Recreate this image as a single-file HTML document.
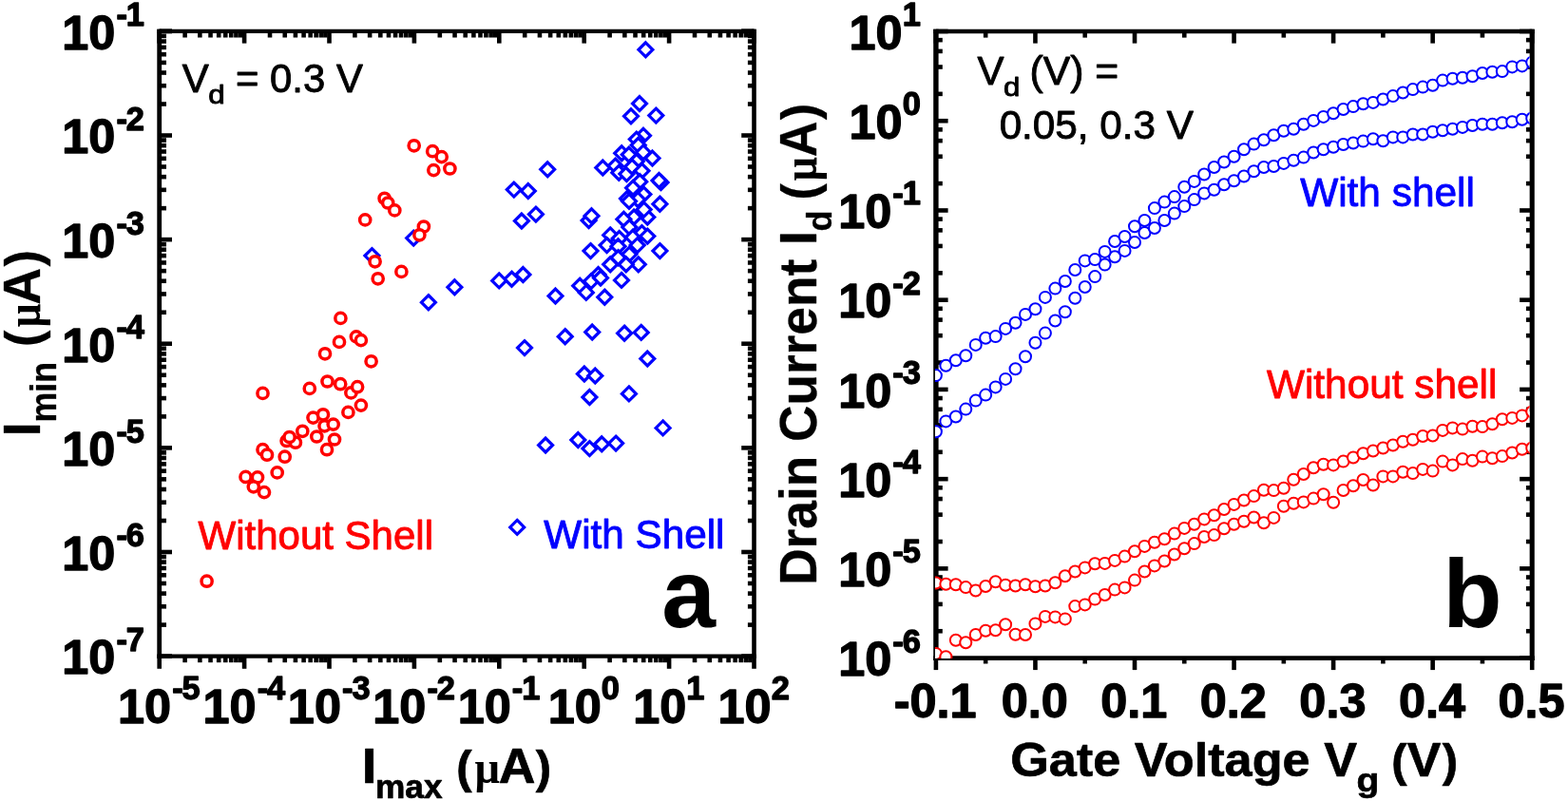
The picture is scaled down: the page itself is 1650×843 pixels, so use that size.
<!DOCTYPE html>
<html><head><meta charset="utf-8"><title>Figure</title>
<style>
html,body{margin:0;padding:0;background:#fff;}
body{width:1650px;height:843px;overflow:hidden;}
svg{display:block;}
svg{font-family:"Liberation Sans",Arial,sans-serif;}
</style></head><body>

<svg width="1650" height="843" viewBox="0 0 1650 843">
<rect width="1650" height="843" fill="#fff"/>
<defs><clipPath id="cb"><rect x="984" y="31" width="625.6" height="662.1"/></clipPath></defs>
<g fill="#fff" stroke="#00f" stroke-width="3.2" stroke-linejoin="miter"><path d="M679.4 44.85l7.45 7.45l-7.45 7.45l-7.45 -7.45z"/><path d="M673 101.55l7.45 7.45l-7.45 7.45l-7.45 -7.45z"/><path d="M664 114.85l7.45 7.45l-7.45 7.45l-7.45 -7.45z"/><path d="M690.3 114.15l7.45 7.45l-7.45 7.45l-7.45 -7.45z"/><path d="M677 135.35l7.45 7.45l-7.45 7.45l-7.45 -7.45z"/><path d="M669.8 139.15l7.45 7.45l-7.45 7.45l-7.45 -7.45z"/><path d="M671.7 145.35l7.45 7.45l-7.45 7.45l-7.45 -7.45z"/><path d="M654.2 153.85l7.45 7.45l-7.45 7.45l-7.45 -7.45z"/><path d="M661.8 155.25l7.45 7.45l-7.45 7.45l-7.45 -7.45z"/><path d="M677 152.95l7.45 7.45l-7.45 7.45l-7.45 -7.45z"/><path d="M669.8 162.35l7.45 7.45l-7.45 7.45l-7.45 -7.45z"/><path d="M686.5 159.05l7.45 7.45l-7.45 7.45l-7.45 -7.45z"/><path d="M634.3 169.05l7.45 7.45l-7.45 7.45l-7.45 -7.45z"/><path d="M647.6 167.15l7.45 7.45l-7.45 7.45l-7.45 -7.45z"/><path d="M651.3 174.25l7.45 7.45l-7.45 7.45l-7.45 -7.45z"/><path d="M659.4 175.65l7.45 7.45l-7.45 7.45l-7.45 -7.45z"/><path d="M665.1 168.05l7.45 7.45l-7.45 7.45l-7.45 -7.45z"/><path d="M675.5 172.35l7.45 7.45l-7.45 7.45l-7.45 -7.45z"/><path d="M673.2 183.75l7.45 7.45l-7.45 7.45l-7.45 -7.45z"/><path d="M695.5 184.65l7.45 7.45l-7.45 7.45l-7.45 -7.45z"/><path d="M693.5 182.55l7.45 7.45l-7.45 7.45l-7.45 -7.45z"/><path d="M666.1 190.35l7.45 7.45l-7.45 7.45l-7.45 -7.45z"/><path d="M677.4 197.05l7.45 7.45l-7.45 7.45l-7.45 -7.45z"/><path d="M660 201.55l7.45 7.45l-7.45 7.45l-7.45 -7.45z"/><path d="M576.2 170.85l7.45 7.45l-7.45 7.45l-7.45 -7.45z"/><path d="M540.8 192.15l7.45 7.45l-7.45 7.45l-7.45 -7.45z"/><path d="M555.8 193.55l7.45 7.45l-7.45 7.45l-7.45 -7.45z"/><path d="M563.9 218.15l7.45 7.45l-7.45 7.45l-7.45 -7.45z"/><path d="M548.9 225.05l7.45 7.45l-7.45 7.45l-7.45 -7.45z"/><path d="M619.6 224.55l7.45 7.45l-7.45 7.45l-7.45 -7.45z"/><path d="M622.5 219.85l7.45 7.45l-7.45 7.45l-7.45 -7.45z"/><path d="M694.4 207.25l7.45 7.45l-7.45 7.45l-7.45 -7.45z"/><path d="M667.1 221.05l7.45 7.45l-7.45 7.45l-7.45 -7.45z"/><path d="M681.3 221.05l7.45 7.45l-7.45 7.45l-7.45 -7.45z"/><path d="M656.4 223.35l7.45 7.45l-7.45 7.45l-7.45 -7.45z"/><path d="M662.3 231.65l7.45 7.45l-7.45 7.45l-7.45 -7.45z"/><path d="M675.4 237.65l7.45 7.45l-7.45 7.45l-7.45 -7.45z"/><path d="M681.3 241.15l7.45 7.45l-7.45 7.45l-7.45 -7.45z"/><path d="M642.2 239.95l7.45 7.45l-7.45 7.45l-7.45 -7.45z"/><path d="M651.7 243.55l7.45 7.45l-7.45 7.45l-7.45 -7.45z"/><path d="M665.9 242.35l7.45 7.45l-7.45 7.45l-7.45 -7.45z"/><path d="M638.6 250.65l7.45 7.45l-7.45 7.45l-7.45 -7.45z"/><path d="M650.5 251.85l7.45 7.45l-7.45 7.45l-7.45 -7.45z"/><path d="M662.3 260.15l7.45 7.45l-7.45 7.45l-7.45 -7.45z"/><path d="M670.7 250.65l7.45 7.45l-7.45 7.45l-7.45 -7.45z"/><path d="M694.4 256.65l7.45 7.45l-7.45 7.45l-7.45 -7.45z"/><path d="M621.5 256.65l7.45 7.45l-7.45 7.45l-7.45 -7.45z"/><path d="M650.5 263.75l7.45 7.45l-7.45 7.45l-7.45 -7.45z"/><path d="M642.2 270.85l7.45 7.45l-7.45 7.45l-7.45 -7.45z"/><path d="M671.8 270.85l7.45 7.45l-7.45 7.45l-7.45 -7.45z"/><path d="M658.8 270.85l7.45 7.45l-7.45 7.45l-7.45 -7.45z"/><path d="M654 287.45l7.45 7.45l-7.45 7.45l-7.45 -7.45z"/><path d="M629.6 281.55l7.45 7.45l-7.45 7.45l-7.45 -7.45z"/><path d="M622 288.65l7.45 7.45l-7.45 7.45l-7.45 -7.45z"/><path d="M610.2 293.35l7.45 7.45l-7.45 7.45l-7.45 -7.45z"/><path d="M616.8 300.45l7.45 7.45l-7.45 7.45l-7.45 -7.45z"/><path d="M636.3 305.25l7.45 7.45l-7.45 7.45l-7.45 -7.45z"/><path d="M584.5 304.05l7.45 7.45l-7.45 7.45l-7.45 -7.45z"/><path d="M550.4 281.55l7.45 7.45l-7.45 7.45l-7.45 -7.45z"/><path d="M538.5 286.25l7.45 7.45l-7.45 7.45l-7.45 -7.45z"/><path d="M525.2 287.95l7.45 7.45l-7.45 7.45l-7.45 -7.45z"/><path d="M594.7 346.75l7.45 7.45l-7.45 7.45l-7.45 -7.45z"/><path d="M623.2 342.05l7.45 7.45l-7.45 7.45l-7.45 -7.45z"/><path d="M657.1 343.25l7.45 7.45l-7.45 7.45l-7.45 -7.45z"/><path d="M674.7 342.45l7.45 7.45l-7.45 7.45l-7.45 -7.45z"/><path d="M552 358.65l7.45 7.45l-7.45 7.45l-7.45 -7.45z"/><path d="M681.3 370.05l7.45 7.45l-7.45 7.45l-7.45 -7.45z"/><path d="M614.9 386.05l7.45 7.45l-7.45 7.45l-7.45 -7.45z"/><path d="M626.3 388.05l7.45 7.45l-7.45 7.45l-7.45 -7.45z"/><path d="M620.4 410.55l7.45 7.45l-7.45 7.45l-7.45 -7.45z"/><path d="M661.9 406.95l7.45 7.45l-7.45 7.45l-7.45 -7.45z"/><path d="M697.6 442.95l7.45 7.45l-7.45 7.45l-7.45 -7.45z"/><path d="M574.1 461.05l7.45 7.45l-7.45 7.45l-7.45 -7.45z"/><path d="M608.3 455.55l7.45 7.45l-7.45 7.45l-7.45 -7.45z"/><path d="M620.4 464.65l7.45 7.45l-7.45 7.45l-7.45 -7.45z"/><path d="M633.2 459.85l7.45 7.45l-7.45 7.45l-7.45 -7.45z"/><path d="M648.1 459.15l7.45 7.45l-7.45 7.45l-7.45 -7.45z"/><path d="M478.4 294.85l7.45 7.45l-7.45 7.45l-7.45 -7.45z"/><path d="M450.9 310.75l7.45 7.45l-7.45 7.45l-7.45 -7.45z"/><path d="M435.2 243.15l7.45 7.45l-7.45 7.45l-7.45 -7.45z"/><path d="M391.4 261.65l7.45 7.45l-7.45 7.45l-7.45 -7.45z"/><path d="M671.2 202.55l7.45 7.45l-7.45 7.45l-7.45 -7.45z"/><path d="M677.6 213.15l7.45 7.45l-7.45 7.45l-7.45 -7.45z"/><path d="M632 285.05l7.45 7.45l-7.45 7.45l-7.45 -7.45z"/><path d="M662 204.35l7.45 7.45l-7.45 7.45l-7.45 -7.45z"/><path d="M544.2 547.45l7.45 7.45l-7.45 7.45l-7.45 -7.45z"/></g>
<g fill="#fff" stroke="#f00" stroke-width="3.5"><circle cx="435.7" cy="153.3" r="5.6"/><circle cx="455.2" cy="159.2" r="5.6"/><circle cx="464.7" cy="165.1" r="5.6"/><circle cx="456.3" cy="179.1" r="5.6"/><circle cx="473.4" cy="177.5" r="5.6"/><circle cx="404.6" cy="208.8" r="5.6"/><circle cx="408.2" cy="213.5" r="5.6"/><circle cx="415.3" cy="221.4" r="5.6"/><circle cx="384.2" cy="231.4" r="5.6"/><circle cx="445.9" cy="238.5" r="5.6"/><circle cx="441.4" cy="247.3" r="5.6"/><circle cx="394.6" cy="275.3" r="5.6"/><circle cx="422.4" cy="285.9" r="5.6"/><circle cx="397.7" cy="293.3" r="5.6"/><circle cx="358.4" cy="334.9" r="5.6"/><circle cx="374.9" cy="354.4" r="5.6"/><circle cx="379.9" cy="358.1" r="5.6"/><circle cx="357" cy="359.9" r="5.6"/><circle cx="342" cy="372.3" r="5.6"/><circle cx="390.6" cy="380.3" r="5.6"/><circle cx="276.5" cy="413.9" r="5.6"/><circle cx="325.8" cy="408.9" r="5.6"/><circle cx="344.5" cy="401.5" r="5.6"/><circle cx="358.2" cy="404.2" r="5.6"/><circle cx="369.4" cy="413.4" r="5.6"/><circle cx="376.1" cy="407.2" r="5.6"/><circle cx="379.9" cy="426.6" r="5.6"/><circle cx="366.4" cy="433.9" r="5.6"/><circle cx="329.5" cy="439.6" r="5.6"/><circle cx="340" cy="436.3" r="5.6"/><circle cx="341.5" cy="448.3" r="5.6"/><circle cx="350.7" cy="446.6" r="5.6"/><circle cx="318.3" cy="453.8" r="5.6"/><circle cx="333.3" cy="459.5" r="5.6"/><circle cx="352" cy="462.5" r="5.6"/><circle cx="344" cy="473.2" r="5.6"/><circle cx="301.6" cy="464" r="5.6"/><circle cx="310.9" cy="465.7" r="5.6"/><circle cx="304.6" cy="460" r="5.6"/><circle cx="276.5" cy="473.2" r="5.6"/><circle cx="281" cy="478.7" r="5.6"/><circle cx="299.7" cy="480.7" r="5.6"/><circle cx="291.7" cy="497.4" r="5.6"/><circle cx="258.5" cy="501.9" r="5.6"/><circle cx="271" cy="502.4" r="5.6"/><circle cx="266.8" cy="512.3" r="5.6"/><circle cx="278" cy="518.1" r="5.6"/><circle cx="217.6" cy="611.7" r="5.6"/></g>
<g fill="none" stroke="#000" stroke-linecap="butt">
<line x1="165.3" y1="32.9" x2="795.8" y2="32.9" stroke-width="4.1"/><line x1="165.3" y1="690.6" x2="795.8" y2="690.6" stroke-width="4.4"/><line x1="167.7" y1="30.85" x2="167.7" y2="692.8" stroke-width="4.8"/><line x1="793.5" y1="30.85" x2="793.5" y2="692.8" stroke-width="4.6"/>
<line x1="982.2" y1="33" x2="1614.75" y2="33" stroke-width="4.4"/><line x1="982.2" y1="692.6" x2="1614.75" y2="692.6" stroke-width="4.6"/><line x1="984.9" y1="30.8" x2="984.9" y2="694.9" stroke-width="5.4"/><line x1="1612.2" y1="30.8" x2="1612.2" y2="694.9" stroke-width="5.1"/>
<line x1="167.7" y1="690.6" x2="181" y2="690.6" stroke-width="4.6"/><line x1="793.5" y1="690.6" x2="780.2" y2="690.6" stroke-width="4.6"/><line x1="167.7" y1="657.6" x2="175" y2="657.6" stroke-width="4.6"/><line x1="793.5" y1="657.6" x2="786.9" y2="657.6" stroke-width="4.6"/><line x1="167.7" y1="638.3" x2="175" y2="638.3" stroke-width="4.6"/><line x1="793.5" y1="638.3" x2="786.9" y2="638.3" stroke-width="4.6"/><line x1="167.7" y1="624.6" x2="175" y2="624.6" stroke-width="4.6"/><line x1="793.5" y1="624.6" x2="786.9" y2="624.6" stroke-width="4.6"/><line x1="167.7" y1="613.98" x2="175" y2="613.98" stroke-width="4.6"/><line x1="793.5" y1="613.98" x2="786.9" y2="613.98" stroke-width="4.6"/><line x1="167.7" y1="605.3" x2="175" y2="605.3" stroke-width="4.6"/><line x1="793.5" y1="605.3" x2="786.9" y2="605.3" stroke-width="4.6"/><line x1="167.7" y1="597.96" x2="175" y2="597.96" stroke-width="4.6"/><line x1="793.5" y1="597.96" x2="786.9" y2="597.96" stroke-width="4.6"/><line x1="167.7" y1="591.61" x2="175" y2="591.61" stroke-width="4.6"/><line x1="793.5" y1="591.61" x2="786.9" y2="591.61" stroke-width="4.6"/><line x1="167.7" y1="586" x2="175" y2="586" stroke-width="4.6"/><line x1="793.5" y1="586" x2="786.9" y2="586" stroke-width="4.6"/><line x1="167.7" y1="580.98" x2="181" y2="580.98" stroke-width="4.6"/><line x1="793.5" y1="580.98" x2="780.2" y2="580.98" stroke-width="4.6"/><line x1="167.7" y1="547.99" x2="175" y2="547.99" stroke-width="4.6"/><line x1="793.5" y1="547.99" x2="786.9" y2="547.99" stroke-width="4.6"/><line x1="167.7" y1="528.68" x2="175" y2="528.68" stroke-width="4.6"/><line x1="793.5" y1="528.68" x2="786.9" y2="528.68" stroke-width="4.6"/><line x1="167.7" y1="514.99" x2="175" y2="514.99" stroke-width="4.6"/><line x1="793.5" y1="514.99" x2="786.9" y2="514.99" stroke-width="4.6"/><line x1="167.7" y1="504.36" x2="175" y2="504.36" stroke-width="4.6"/><line x1="793.5" y1="504.36" x2="786.9" y2="504.36" stroke-width="4.6"/><line x1="167.7" y1="495.68" x2="175" y2="495.68" stroke-width="4.6"/><line x1="793.5" y1="495.68" x2="786.9" y2="495.68" stroke-width="4.6"/><line x1="167.7" y1="488.35" x2="175" y2="488.35" stroke-width="4.6"/><line x1="793.5" y1="488.35" x2="786.9" y2="488.35" stroke-width="4.6"/><line x1="167.7" y1="481.99" x2="175" y2="481.99" stroke-width="4.6"/><line x1="793.5" y1="481.99" x2="786.9" y2="481.99" stroke-width="4.6"/><line x1="167.7" y1="476.38" x2="175" y2="476.38" stroke-width="4.6"/><line x1="793.5" y1="476.38" x2="786.9" y2="476.38" stroke-width="4.6"/><line x1="167.7" y1="471.37" x2="181" y2="471.37" stroke-width="4.6"/><line x1="793.5" y1="471.37" x2="780.2" y2="471.37" stroke-width="4.6"/><line x1="167.7" y1="438.37" x2="175" y2="438.37" stroke-width="4.6"/><line x1="793.5" y1="438.37" x2="786.9" y2="438.37" stroke-width="4.6"/><line x1="167.7" y1="419.07" x2="175" y2="419.07" stroke-width="4.6"/><line x1="793.5" y1="419.07" x2="786.9" y2="419.07" stroke-width="4.6"/><line x1="167.7" y1="405.37" x2="175" y2="405.37" stroke-width="4.6"/><line x1="793.5" y1="405.37" x2="786.9" y2="405.37" stroke-width="4.6"/><line x1="167.7" y1="394.75" x2="175" y2="394.75" stroke-width="4.6"/><line x1="793.5" y1="394.75" x2="786.9" y2="394.75" stroke-width="4.6"/><line x1="167.7" y1="386.07" x2="175" y2="386.07" stroke-width="4.6"/><line x1="793.5" y1="386.07" x2="786.9" y2="386.07" stroke-width="4.6"/><line x1="167.7" y1="378.73" x2="175" y2="378.73" stroke-width="4.6"/><line x1="793.5" y1="378.73" x2="786.9" y2="378.73" stroke-width="4.6"/><line x1="167.7" y1="372.37" x2="175" y2="372.37" stroke-width="4.6"/><line x1="793.5" y1="372.37" x2="786.9" y2="372.37" stroke-width="4.6"/><line x1="167.7" y1="366.77" x2="175" y2="366.77" stroke-width="4.6"/><line x1="793.5" y1="366.77" x2="786.9" y2="366.77" stroke-width="4.6"/><line x1="167.7" y1="361.75" x2="181" y2="361.75" stroke-width="4.6"/><line x1="793.5" y1="361.75" x2="780.2" y2="361.75" stroke-width="4.6"/><line x1="167.7" y1="328.75" x2="175" y2="328.75" stroke-width="4.6"/><line x1="793.5" y1="328.75" x2="786.9" y2="328.75" stroke-width="4.6"/><line x1="167.7" y1="309.45" x2="175" y2="309.45" stroke-width="4.6"/><line x1="793.5" y1="309.45" x2="786.9" y2="309.45" stroke-width="4.6"/><line x1="167.7" y1="295.75" x2="175" y2="295.75" stroke-width="4.6"/><line x1="793.5" y1="295.75" x2="786.9" y2="295.75" stroke-width="4.6"/><line x1="167.7" y1="285.13" x2="175" y2="285.13" stroke-width="4.6"/><line x1="793.5" y1="285.13" x2="786.9" y2="285.13" stroke-width="4.6"/><line x1="167.7" y1="276.45" x2="175" y2="276.45" stroke-width="4.6"/><line x1="793.5" y1="276.45" x2="786.9" y2="276.45" stroke-width="4.6"/><line x1="167.7" y1="269.11" x2="175" y2="269.11" stroke-width="4.6"/><line x1="793.5" y1="269.11" x2="786.9" y2="269.11" stroke-width="4.6"/><line x1="167.7" y1="262.76" x2="175" y2="262.76" stroke-width="4.6"/><line x1="793.5" y1="262.76" x2="786.9" y2="262.76" stroke-width="4.6"/><line x1="167.7" y1="257.15" x2="175" y2="257.15" stroke-width="4.6"/><line x1="793.5" y1="257.15" x2="786.9" y2="257.15" stroke-width="4.6"/><line x1="167.7" y1="252.13" x2="181" y2="252.13" stroke-width="4.6"/><line x1="793.5" y1="252.13" x2="780.2" y2="252.13" stroke-width="4.6"/><line x1="167.7" y1="219.14" x2="175" y2="219.14" stroke-width="4.6"/><line x1="793.5" y1="219.14" x2="786.9" y2="219.14" stroke-width="4.6"/><line x1="167.7" y1="199.83" x2="175" y2="199.83" stroke-width="4.6"/><line x1="793.5" y1="199.83" x2="786.9" y2="199.83" stroke-width="4.6"/><line x1="167.7" y1="186.14" x2="175" y2="186.14" stroke-width="4.6"/><line x1="793.5" y1="186.14" x2="786.9" y2="186.14" stroke-width="4.6"/><line x1="167.7" y1="175.51" x2="175" y2="175.51" stroke-width="4.6"/><line x1="793.5" y1="175.51" x2="786.9" y2="175.51" stroke-width="4.6"/><line x1="167.7" y1="166.83" x2="175" y2="166.83" stroke-width="4.6"/><line x1="793.5" y1="166.83" x2="786.9" y2="166.83" stroke-width="4.6"/><line x1="167.7" y1="159.5" x2="175" y2="159.5" stroke-width="4.6"/><line x1="793.5" y1="159.5" x2="786.9" y2="159.5" stroke-width="4.6"/><line x1="167.7" y1="153.14" x2="175" y2="153.14" stroke-width="4.6"/><line x1="793.5" y1="153.14" x2="786.9" y2="153.14" stroke-width="4.6"/><line x1="167.7" y1="147.53" x2="175" y2="147.53" stroke-width="4.6"/><line x1="793.5" y1="147.53" x2="786.9" y2="147.53" stroke-width="4.6"/><line x1="167.7" y1="142.52" x2="181" y2="142.52" stroke-width="4.6"/><line x1="793.5" y1="142.52" x2="780.2" y2="142.52" stroke-width="4.6"/><line x1="167.7" y1="109.52" x2="175" y2="109.52" stroke-width="4.6"/><line x1="793.5" y1="109.52" x2="786.9" y2="109.52" stroke-width="4.6"/><line x1="167.7" y1="90.22" x2="175" y2="90.22" stroke-width="4.6"/><line x1="793.5" y1="90.22" x2="786.9" y2="90.22" stroke-width="4.6"/><line x1="167.7" y1="76.52" x2="175" y2="76.52" stroke-width="4.6"/><line x1="793.5" y1="76.52" x2="786.9" y2="76.52" stroke-width="4.6"/><line x1="167.7" y1="65.9" x2="175" y2="65.9" stroke-width="4.6"/><line x1="793.5" y1="65.9" x2="786.9" y2="65.9" stroke-width="4.6"/><line x1="167.7" y1="57.22" x2="175" y2="57.22" stroke-width="4.6"/><line x1="793.5" y1="57.22" x2="786.9" y2="57.22" stroke-width="4.6"/><line x1="167.7" y1="49.88" x2="175" y2="49.88" stroke-width="4.6"/><line x1="793.5" y1="49.88" x2="786.9" y2="49.88" stroke-width="4.6"/><line x1="167.7" y1="43.52" x2="175" y2="43.52" stroke-width="4.6"/><line x1="793.5" y1="43.52" x2="786.9" y2="43.52" stroke-width="4.6"/><line x1="167.7" y1="37.92" x2="175" y2="37.92" stroke-width="4.6"/><line x1="793.5" y1="37.92" x2="786.9" y2="37.92" stroke-width="4.6"/><line x1="167.7" y1="32.9" x2="181" y2="32.9" stroke-width="4.6"/><line x1="793.5" y1="32.9" x2="780.2" y2="32.9" stroke-width="4.6"/><line x1="167.7" y1="32.9" x2="181" y2="32.9" stroke-width="4.6"/><line x1="793.5" y1="32.9" x2="780.2" y2="32.9" stroke-width="4.6"/><line x1="167.7" y1="32.9" x2="167.7" y2="45.6" stroke-width="4.6"/><line x1="167.7" y1="690.6" x2="167.7" y2="703.8" stroke-width="4.6"/><line x1="194.61" y1="32.9" x2="194.61" y2="39.5" stroke-width="4.6"/><line x1="194.61" y1="690.6" x2="194.61" y2="697.2" stroke-width="4.6"/><line x1="210.35" y1="32.9" x2="210.35" y2="39.5" stroke-width="4.6"/><line x1="210.35" y1="690.6" x2="210.35" y2="697.2" stroke-width="4.6"/><line x1="221.52" y1="32.9" x2="221.52" y2="39.5" stroke-width="4.6"/><line x1="221.52" y1="690.6" x2="221.52" y2="697.2" stroke-width="4.6"/><line x1="230.19" y1="32.9" x2="230.19" y2="39.5" stroke-width="4.6"/><line x1="230.19" y1="690.6" x2="230.19" y2="697.2" stroke-width="4.6"/><line x1="237.27" y1="32.9" x2="237.27" y2="39.5" stroke-width="4.6"/><line x1="237.27" y1="690.6" x2="237.27" y2="697.2" stroke-width="4.6"/><line x1="243.25" y1="32.9" x2="243.25" y2="39.5" stroke-width="4.6"/><line x1="243.25" y1="690.6" x2="243.25" y2="697.2" stroke-width="4.6"/><line x1="248.44" y1="32.9" x2="248.44" y2="39.5" stroke-width="4.6"/><line x1="248.44" y1="690.6" x2="248.44" y2="697.2" stroke-width="4.6"/><line x1="253.01" y1="32.9" x2="253.01" y2="39.5" stroke-width="4.6"/><line x1="253.01" y1="690.6" x2="253.01" y2="697.2" stroke-width="4.6"/><line x1="257.1" y1="32.9" x2="257.1" y2="45.6" stroke-width="4.6"/><line x1="257.1" y1="690.6" x2="257.1" y2="703.8" stroke-width="4.6"/><line x1="284.01" y1="32.9" x2="284.01" y2="39.5" stroke-width="4.6"/><line x1="284.01" y1="690.6" x2="284.01" y2="697.2" stroke-width="4.6"/><line x1="299.75" y1="32.9" x2="299.75" y2="39.5" stroke-width="4.6"/><line x1="299.75" y1="690.6" x2="299.75" y2="697.2" stroke-width="4.6"/><line x1="310.92" y1="32.9" x2="310.92" y2="39.5" stroke-width="4.6"/><line x1="310.92" y1="690.6" x2="310.92" y2="697.2" stroke-width="4.6"/><line x1="319.59" y1="32.9" x2="319.59" y2="39.5" stroke-width="4.6"/><line x1="319.59" y1="690.6" x2="319.59" y2="697.2" stroke-width="4.6"/><line x1="326.67" y1="32.9" x2="326.67" y2="39.5" stroke-width="4.6"/><line x1="326.67" y1="690.6" x2="326.67" y2="697.2" stroke-width="4.6"/><line x1="332.65" y1="32.9" x2="332.65" y2="39.5" stroke-width="4.6"/><line x1="332.65" y1="690.6" x2="332.65" y2="697.2" stroke-width="4.6"/><line x1="337.84" y1="32.9" x2="337.84" y2="39.5" stroke-width="4.6"/><line x1="337.84" y1="690.6" x2="337.84" y2="697.2" stroke-width="4.6"/><line x1="342.41" y1="32.9" x2="342.41" y2="39.5" stroke-width="4.6"/><line x1="342.41" y1="690.6" x2="342.41" y2="697.2" stroke-width="4.6"/><line x1="346.5" y1="32.9" x2="346.5" y2="45.6" stroke-width="4.6"/><line x1="346.5" y1="690.6" x2="346.5" y2="703.8" stroke-width="4.6"/><line x1="373.41" y1="32.9" x2="373.41" y2="39.5" stroke-width="4.6"/><line x1="373.41" y1="690.6" x2="373.41" y2="697.2" stroke-width="4.6"/><line x1="389.15" y1="32.9" x2="389.15" y2="39.5" stroke-width="4.6"/><line x1="389.15" y1="690.6" x2="389.15" y2="697.2" stroke-width="4.6"/><line x1="400.32" y1="32.9" x2="400.32" y2="39.5" stroke-width="4.6"/><line x1="400.32" y1="690.6" x2="400.32" y2="697.2" stroke-width="4.6"/><line x1="408.99" y1="32.9" x2="408.99" y2="39.5" stroke-width="4.6"/><line x1="408.99" y1="690.6" x2="408.99" y2="697.2" stroke-width="4.6"/><line x1="416.07" y1="32.9" x2="416.07" y2="39.5" stroke-width="4.6"/><line x1="416.07" y1="690.6" x2="416.07" y2="697.2" stroke-width="4.6"/><line x1="422.05" y1="32.9" x2="422.05" y2="39.5" stroke-width="4.6"/><line x1="422.05" y1="690.6" x2="422.05" y2="697.2" stroke-width="4.6"/><line x1="427.24" y1="32.9" x2="427.24" y2="39.5" stroke-width="4.6"/><line x1="427.24" y1="690.6" x2="427.24" y2="697.2" stroke-width="4.6"/><line x1="431.81" y1="32.9" x2="431.81" y2="39.5" stroke-width="4.6"/><line x1="431.81" y1="690.6" x2="431.81" y2="697.2" stroke-width="4.6"/><line x1="435.9" y1="32.9" x2="435.9" y2="45.6" stroke-width="4.6"/><line x1="435.9" y1="690.6" x2="435.9" y2="703.8" stroke-width="4.6"/><line x1="462.81" y1="32.9" x2="462.81" y2="39.5" stroke-width="4.6"/><line x1="462.81" y1="690.6" x2="462.81" y2="697.2" stroke-width="4.6"/><line x1="478.55" y1="32.9" x2="478.55" y2="39.5" stroke-width="4.6"/><line x1="478.55" y1="690.6" x2="478.55" y2="697.2" stroke-width="4.6"/><line x1="489.72" y1="32.9" x2="489.72" y2="39.5" stroke-width="4.6"/><line x1="489.72" y1="690.6" x2="489.72" y2="697.2" stroke-width="4.6"/><line x1="498.39" y1="32.9" x2="498.39" y2="39.5" stroke-width="4.6"/><line x1="498.39" y1="690.6" x2="498.39" y2="697.2" stroke-width="4.6"/><line x1="505.47" y1="32.9" x2="505.47" y2="39.5" stroke-width="4.6"/><line x1="505.47" y1="690.6" x2="505.47" y2="697.2" stroke-width="4.6"/><line x1="511.45" y1="32.9" x2="511.45" y2="39.5" stroke-width="4.6"/><line x1="511.45" y1="690.6" x2="511.45" y2="697.2" stroke-width="4.6"/><line x1="516.64" y1="32.9" x2="516.64" y2="39.5" stroke-width="4.6"/><line x1="516.64" y1="690.6" x2="516.64" y2="697.2" stroke-width="4.6"/><line x1="521.21" y1="32.9" x2="521.21" y2="39.5" stroke-width="4.6"/><line x1="521.21" y1="690.6" x2="521.21" y2="697.2" stroke-width="4.6"/><line x1="525.3" y1="32.9" x2="525.3" y2="45.6" stroke-width="4.6"/><line x1="525.3" y1="690.6" x2="525.3" y2="703.8" stroke-width="4.6"/><line x1="552.21" y1="32.9" x2="552.21" y2="39.5" stroke-width="4.6"/><line x1="552.21" y1="690.6" x2="552.21" y2="697.2" stroke-width="4.6"/><line x1="567.95" y1="32.9" x2="567.95" y2="39.5" stroke-width="4.6"/><line x1="567.95" y1="690.6" x2="567.95" y2="697.2" stroke-width="4.6"/><line x1="579.12" y1="32.9" x2="579.12" y2="39.5" stroke-width="4.6"/><line x1="579.12" y1="690.6" x2="579.12" y2="697.2" stroke-width="4.6"/><line x1="587.79" y1="32.9" x2="587.79" y2="39.5" stroke-width="4.6"/><line x1="587.79" y1="690.6" x2="587.79" y2="697.2" stroke-width="4.6"/><line x1="594.87" y1="32.9" x2="594.87" y2="39.5" stroke-width="4.6"/><line x1="594.87" y1="690.6" x2="594.87" y2="697.2" stroke-width="4.6"/><line x1="600.85" y1="32.9" x2="600.85" y2="39.5" stroke-width="4.6"/><line x1="600.85" y1="690.6" x2="600.85" y2="697.2" stroke-width="4.6"/><line x1="606.04" y1="32.9" x2="606.04" y2="39.5" stroke-width="4.6"/><line x1="606.04" y1="690.6" x2="606.04" y2="697.2" stroke-width="4.6"/><line x1="610.61" y1="32.9" x2="610.61" y2="39.5" stroke-width="4.6"/><line x1="610.61" y1="690.6" x2="610.61" y2="697.2" stroke-width="4.6"/><line x1="614.7" y1="32.9" x2="614.7" y2="45.6" stroke-width="4.6"/><line x1="614.7" y1="690.6" x2="614.7" y2="703.8" stroke-width="4.6"/><line x1="641.61" y1="32.9" x2="641.61" y2="39.5" stroke-width="4.6"/><line x1="641.61" y1="690.6" x2="641.61" y2="697.2" stroke-width="4.6"/><line x1="657.35" y1="32.9" x2="657.35" y2="39.5" stroke-width="4.6"/><line x1="657.35" y1="690.6" x2="657.35" y2="697.2" stroke-width="4.6"/><line x1="668.52" y1="32.9" x2="668.52" y2="39.5" stroke-width="4.6"/><line x1="668.52" y1="690.6" x2="668.52" y2="697.2" stroke-width="4.6"/><line x1="677.19" y1="32.9" x2="677.19" y2="39.5" stroke-width="4.6"/><line x1="677.19" y1="690.6" x2="677.19" y2="697.2" stroke-width="4.6"/><line x1="684.27" y1="32.9" x2="684.27" y2="39.5" stroke-width="4.6"/><line x1="684.27" y1="690.6" x2="684.27" y2="697.2" stroke-width="4.6"/><line x1="690.25" y1="32.9" x2="690.25" y2="39.5" stroke-width="4.6"/><line x1="690.25" y1="690.6" x2="690.25" y2="697.2" stroke-width="4.6"/><line x1="695.44" y1="32.9" x2="695.44" y2="39.5" stroke-width="4.6"/><line x1="695.44" y1="690.6" x2="695.44" y2="697.2" stroke-width="4.6"/><line x1="700.01" y1="32.9" x2="700.01" y2="39.5" stroke-width="4.6"/><line x1="700.01" y1="690.6" x2="700.01" y2="697.2" stroke-width="4.6"/><line x1="704.1" y1="32.9" x2="704.1" y2="45.6" stroke-width="4.6"/><line x1="704.1" y1="690.6" x2="704.1" y2="703.8" stroke-width="4.6"/><line x1="731.01" y1="32.9" x2="731.01" y2="39.5" stroke-width="4.6"/><line x1="731.01" y1="690.6" x2="731.01" y2="697.2" stroke-width="4.6"/><line x1="746.75" y1="32.9" x2="746.75" y2="39.5" stroke-width="4.6"/><line x1="746.75" y1="690.6" x2="746.75" y2="697.2" stroke-width="4.6"/><line x1="757.92" y1="32.9" x2="757.92" y2="39.5" stroke-width="4.6"/><line x1="757.92" y1="690.6" x2="757.92" y2="697.2" stroke-width="4.6"/><line x1="766.59" y1="32.9" x2="766.59" y2="39.5" stroke-width="4.6"/><line x1="766.59" y1="690.6" x2="766.59" y2="697.2" stroke-width="4.6"/><line x1="773.67" y1="32.9" x2="773.67" y2="39.5" stroke-width="4.6"/><line x1="773.67" y1="690.6" x2="773.67" y2="697.2" stroke-width="4.6"/><line x1="779.65" y1="32.9" x2="779.65" y2="39.5" stroke-width="4.6"/><line x1="779.65" y1="690.6" x2="779.65" y2="697.2" stroke-width="4.6"/><line x1="784.84" y1="32.9" x2="784.84" y2="39.5" stroke-width="4.6"/><line x1="784.84" y1="690.6" x2="784.84" y2="697.2" stroke-width="4.6"/><line x1="789.41" y1="32.9" x2="789.41" y2="39.5" stroke-width="4.6"/><line x1="789.41" y1="690.6" x2="789.41" y2="697.2" stroke-width="4.6"/><line x1="793.5" y1="32.9" x2="793.5" y2="45.6" stroke-width="4.6"/><line x1="793.5" y1="690.6" x2="793.5" y2="703.8" stroke-width="4.6"/><line x1="984.9" y1="692.6" x2="997.6" y2="692.6" stroke-width="4.6"/><line x1="1612.2" y1="692.6" x2="1599.1" y2="692.6" stroke-width="4.6"/><line x1="984.9" y1="664.23" x2="991.8" y2="664.23" stroke-width="4.6"/><line x1="1612.2" y1="664.23" x2="1605.9" y2="664.23" stroke-width="4.6"/><line x1="984.9" y1="635.87" x2="991.8" y2="635.87" stroke-width="4.6"/><line x1="1612.2" y1="635.87" x2="1605.9" y2="635.87" stroke-width="4.6"/><line x1="984.9" y1="619.28" x2="991.8" y2="619.28" stroke-width="4.6"/><line x1="1612.2" y1="619.28" x2="1605.9" y2="619.28" stroke-width="4.6"/><line x1="984.9" y1="607.5" x2="991.8" y2="607.5" stroke-width="4.6"/><line x1="1612.2" y1="607.5" x2="1605.9" y2="607.5" stroke-width="4.6"/><line x1="984.9" y1="598.37" x2="997.6" y2="598.37" stroke-width="4.6"/><line x1="1612.2" y1="598.37" x2="1599.1" y2="598.37" stroke-width="4.6"/><line x1="984.9" y1="570.01" x2="991.8" y2="570.01" stroke-width="4.6"/><line x1="1612.2" y1="570.01" x2="1605.9" y2="570.01" stroke-width="4.6"/><line x1="984.9" y1="541.64" x2="991.8" y2="541.64" stroke-width="4.6"/><line x1="1612.2" y1="541.64" x2="1605.9" y2="541.64" stroke-width="4.6"/><line x1="984.9" y1="525.05" x2="991.8" y2="525.05" stroke-width="4.6"/><line x1="1612.2" y1="525.05" x2="1605.9" y2="525.05" stroke-width="4.6"/><line x1="984.9" y1="513.27" x2="991.8" y2="513.27" stroke-width="4.6"/><line x1="1612.2" y1="513.27" x2="1605.9" y2="513.27" stroke-width="4.6"/><line x1="984.9" y1="504.14" x2="997.6" y2="504.14" stroke-width="4.6"/><line x1="1612.2" y1="504.14" x2="1599.1" y2="504.14" stroke-width="4.6"/><line x1="984.9" y1="475.78" x2="991.8" y2="475.78" stroke-width="4.6"/><line x1="1612.2" y1="475.78" x2="1605.9" y2="475.78" stroke-width="4.6"/><line x1="984.9" y1="447.41" x2="991.8" y2="447.41" stroke-width="4.6"/><line x1="1612.2" y1="447.41" x2="1605.9" y2="447.41" stroke-width="4.6"/><line x1="984.9" y1="430.82" x2="991.8" y2="430.82" stroke-width="4.6"/><line x1="1612.2" y1="430.82" x2="1605.9" y2="430.82" stroke-width="4.6"/><line x1="984.9" y1="419.05" x2="991.8" y2="419.05" stroke-width="4.6"/><line x1="1612.2" y1="419.05" x2="1605.9" y2="419.05" stroke-width="4.6"/><line x1="984.9" y1="409.91" x2="997.6" y2="409.91" stroke-width="4.6"/><line x1="1612.2" y1="409.91" x2="1599.1" y2="409.91" stroke-width="4.6"/><line x1="984.9" y1="381.55" x2="991.8" y2="381.55" stroke-width="4.6"/><line x1="1612.2" y1="381.55" x2="1605.9" y2="381.55" stroke-width="4.6"/><line x1="984.9" y1="353.18" x2="991.8" y2="353.18" stroke-width="4.6"/><line x1="1612.2" y1="353.18" x2="1605.9" y2="353.18" stroke-width="4.6"/><line x1="984.9" y1="336.59" x2="991.8" y2="336.59" stroke-width="4.6"/><line x1="1612.2" y1="336.59" x2="1605.9" y2="336.59" stroke-width="4.6"/><line x1="984.9" y1="324.82" x2="991.8" y2="324.82" stroke-width="4.6"/><line x1="1612.2" y1="324.82" x2="1605.9" y2="324.82" stroke-width="4.6"/><line x1="984.9" y1="315.69" x2="997.6" y2="315.69" stroke-width="4.6"/><line x1="1612.2" y1="315.69" x2="1599.1" y2="315.69" stroke-width="4.6"/><line x1="984.9" y1="287.32" x2="991.8" y2="287.32" stroke-width="4.6"/><line x1="1612.2" y1="287.32" x2="1605.9" y2="287.32" stroke-width="4.6"/><line x1="984.9" y1="258.95" x2="991.8" y2="258.95" stroke-width="4.6"/><line x1="1612.2" y1="258.95" x2="1605.9" y2="258.95" stroke-width="4.6"/><line x1="984.9" y1="242.36" x2="991.8" y2="242.36" stroke-width="4.6"/><line x1="1612.2" y1="242.36" x2="1605.9" y2="242.36" stroke-width="4.6"/><line x1="984.9" y1="230.59" x2="991.8" y2="230.59" stroke-width="4.6"/><line x1="1612.2" y1="230.59" x2="1605.9" y2="230.59" stroke-width="4.6"/><line x1="984.9" y1="221.46" x2="997.6" y2="221.46" stroke-width="4.6"/><line x1="1612.2" y1="221.46" x2="1599.1" y2="221.46" stroke-width="4.6"/><line x1="984.9" y1="193.09" x2="991.8" y2="193.09" stroke-width="4.6"/><line x1="1612.2" y1="193.09" x2="1605.9" y2="193.09" stroke-width="4.6"/><line x1="984.9" y1="164.73" x2="991.8" y2="164.73" stroke-width="4.6"/><line x1="1612.2" y1="164.73" x2="1605.9" y2="164.73" stroke-width="4.6"/><line x1="984.9" y1="148.13" x2="991.8" y2="148.13" stroke-width="4.6"/><line x1="1612.2" y1="148.13" x2="1605.9" y2="148.13" stroke-width="4.6"/><line x1="984.9" y1="136.36" x2="991.8" y2="136.36" stroke-width="4.6"/><line x1="1612.2" y1="136.36" x2="1605.9" y2="136.36" stroke-width="4.6"/><line x1="984.9" y1="127.23" x2="997.6" y2="127.23" stroke-width="4.6"/><line x1="1612.2" y1="127.23" x2="1599.1" y2="127.23" stroke-width="4.6"/><line x1="984.9" y1="98.86" x2="991.8" y2="98.86" stroke-width="4.6"/><line x1="1612.2" y1="98.86" x2="1605.9" y2="98.86" stroke-width="4.6"/><line x1="984.9" y1="70.5" x2="991.8" y2="70.5" stroke-width="4.6"/><line x1="1612.2" y1="70.5" x2="1605.9" y2="70.5" stroke-width="4.6"/><line x1="984.9" y1="53.9" x2="991.8" y2="53.9" stroke-width="4.6"/><line x1="1612.2" y1="53.9" x2="1605.9" y2="53.9" stroke-width="4.6"/><line x1="984.9" y1="42.13" x2="991.8" y2="42.13" stroke-width="4.6"/><line x1="1612.2" y1="42.13" x2="1605.9" y2="42.13" stroke-width="4.6"/><line x1="984.9" y1="33" x2="997.6" y2="33" stroke-width="4.6"/><line x1="1612.2" y1="33" x2="1599.1" y2="33" stroke-width="4.6"/><line x1="984.9" y1="33" x2="984.9" y2="45.6" stroke-width="4.6"/><line x1="984.9" y1="692.6" x2="984.9" y2="705.1" stroke-width="4.6"/><line x1="1037.17" y1="33" x2="1037.17" y2="39.6" stroke-width="4.6"/><line x1="1037.17" y1="692.6" x2="1037.17" y2="698.5" stroke-width="4.6"/><line x1="1089.45" y1="33" x2="1089.45" y2="45.6" stroke-width="4.6"/><line x1="1089.45" y1="692.6" x2="1089.45" y2="705.1" stroke-width="4.6"/><line x1="1141.72" y1="33" x2="1141.72" y2="39.6" stroke-width="4.6"/><line x1="1141.72" y1="692.6" x2="1141.72" y2="698.5" stroke-width="4.6"/><line x1="1194" y1="33" x2="1194" y2="45.6" stroke-width="4.6"/><line x1="1194" y1="692.6" x2="1194" y2="705.1" stroke-width="4.6"/><line x1="1246.28" y1="33" x2="1246.28" y2="39.6" stroke-width="4.6"/><line x1="1246.28" y1="692.6" x2="1246.28" y2="698.5" stroke-width="4.6"/><line x1="1298.55" y1="33" x2="1298.55" y2="45.6" stroke-width="4.6"/><line x1="1298.55" y1="692.6" x2="1298.55" y2="705.1" stroke-width="4.6"/><line x1="1350.83" y1="33" x2="1350.83" y2="39.6" stroke-width="4.6"/><line x1="1350.83" y1="692.6" x2="1350.83" y2="698.5" stroke-width="4.6"/><line x1="1403.1" y1="33" x2="1403.1" y2="45.6" stroke-width="4.6"/><line x1="1403.1" y1="692.6" x2="1403.1" y2="705.1" stroke-width="4.6"/><line x1="1455.38" y1="33" x2="1455.38" y2="39.6" stroke-width="4.6"/><line x1="1455.38" y1="692.6" x2="1455.38" y2="698.5" stroke-width="4.6"/><line x1="1507.65" y1="33" x2="1507.65" y2="45.6" stroke-width="4.6"/><line x1="1507.65" y1="692.6" x2="1507.65" y2="705.1" stroke-width="4.6"/><line x1="1559.93" y1="33" x2="1559.93" y2="39.6" stroke-width="4.6"/><line x1="1559.93" y1="692.6" x2="1559.93" y2="698.5" stroke-width="4.6"/><line x1="1612.2" y1="33" x2="1612.2" y2="45.6" stroke-width="4.6"/><line x1="1612.2" y1="692.6" x2="1612.2" y2="705.1" stroke-width="4.6"/>
</g>
<g clip-path="url(#cb)" fill="#fff" stroke-width="2.0">
<g stroke="#f00"><circle cx="984.9" cy="687.9" r="6"/><circle cx="995.36" cy="691.2" r="6"/><circle cx="1005.81" cy="673.8" r="6"/><circle cx="1016.26" cy="676.3" r="6"/><circle cx="1026.72" cy="668" r="6"/><circle cx="1037.17" cy="663.8" r="6"/><circle cx="1047.63" cy="663.3" r="6"/><circle cx="1058.09" cy="657.2" r="6"/><circle cx="1068.54" cy="667.7" r="6"/><circle cx="1078.99" cy="668" r="6"/><circle cx="1089.45" cy="656.4" r="6"/><circle cx="1099.9" cy="648.9" r="6"/><circle cx="1110.36" cy="649.4" r="6"/><circle cx="1120.82" cy="651.4" r="6"/><circle cx="1131.27" cy="638.1" r="6"/><circle cx="1141.72" cy="636.4" r="6"/><circle cx="1152.18" cy="630.6" r="6"/><circle cx="1162.63" cy="626" r="6"/><circle cx="1173.09" cy="620.6" r="6"/><circle cx="1183.55" cy="618.4" r="6"/><circle cx="1194" cy="610.6" r="6"/><circle cx="1204.45" cy="601.5" r="6"/><circle cx="1214.91" cy="595.4" r="6"/><circle cx="1225.37" cy="590.5" r="6"/><circle cx="1235.82" cy="583.5" r="6"/><circle cx="1246.28" cy="577.2" r="6"/><circle cx="1256.73" cy="572.1" r="6"/><circle cx="1267.18" cy="565" r="6"/><circle cx="1277.64" cy="563.1" r="6"/><circle cx="1288.1" cy="556.3" r="6"/><circle cx="1298.55" cy="551.8" r="6"/><circle cx="1309.01" cy="548.7" r="6"/><circle cx="1319.46" cy="544.5" r="6"/><circle cx="1329.91" cy="550.2" r="6"/><circle cx="1340.37" cy="544.9" r="6"/><circle cx="1350.83" cy="532.8" r="6"/><circle cx="1361.28" cy="529.7" r="6"/><circle cx="1371.74" cy="528.4" r="6"/><circle cx="1382.19" cy="524.6" r="6"/><circle cx="1392.64" cy="520.2" r="6"/><circle cx="1403.1" cy="528.8" r="6"/><circle cx="1413.56" cy="516" r="6"/><circle cx="1424.01" cy="511.3" r="6"/><circle cx="1434.46" cy="505" r="6"/><circle cx="1444.92" cy="510.5" r="6"/><circle cx="1455.38" cy="501.4" r="6"/><circle cx="1465.83" cy="501.4" r="6"/><circle cx="1476.29" cy="496.7" r="6"/><circle cx="1486.74" cy="498.1" r="6"/><circle cx="1497.2" cy="493.9" r="6"/><circle cx="1507.65" cy="495.6" r="6"/><circle cx="1518.11" cy="485.6" r="6"/><circle cx="1528.56" cy="489.4" r="6"/><circle cx="1539.01" cy="483.1" r="6"/><circle cx="1549.47" cy="484.8" r="6"/><circle cx="1559.93" cy="480.6" r="6"/><circle cx="1570.38" cy="482.3" r="6"/><circle cx="1580.84" cy="480.1" r="6"/><circle cx="1591.29" cy="476.5" r="6"/><circle cx="1601.74" cy="472.8" r="6"/><circle cx="1612.2" cy="471.5" r="6"/><circle cx="984.9" cy="613.5" r="6"/><circle cx="995.36" cy="614.8" r="6"/><circle cx="1005.81" cy="615.2" r="6"/><circle cx="1016.26" cy="618.1" r="6"/><circle cx="1026.72" cy="621.5" r="6"/><circle cx="1037.17" cy="617" r="6"/><circle cx="1047.63" cy="612.3" r="6"/><circle cx="1058.09" cy="615.7" r="6"/><circle cx="1068.54" cy="616.5" r="6"/><circle cx="1078.99" cy="615.2" r="6"/><circle cx="1089.45" cy="617.3" r="6"/><circle cx="1099.9" cy="616.5" r="6"/><circle cx="1110.36" cy="613.2" r="6"/><circle cx="1120.82" cy="606.2" r="6"/><circle cx="1131.27" cy="601.5" r="6"/><circle cx="1141.72" cy="597.4" r="6"/><circle cx="1152.18" cy="593.2" r="6"/><circle cx="1162.63" cy="592.9" r="6"/><circle cx="1173.09" cy="589.9" r="6"/><circle cx="1183.55" cy="585.6" r="6"/><circle cx="1194" cy="580.2" r="6"/><circle cx="1204.45" cy="574.9" r="6"/><circle cx="1214.91" cy="570.7" r="6"/><circle cx="1225.37" cy="567.3" r="6"/><circle cx="1235.82" cy="561.6" r="6"/><circle cx="1246.28" cy="555.9" r="6"/><circle cx="1256.73" cy="551.8" r="6"/><circle cx="1267.18" cy="546.4" r="6"/><circle cx="1277.64" cy="542.3" r="6"/><circle cx="1288.1" cy="536" r="6"/><circle cx="1298.55" cy="530.9" r="6"/><circle cx="1309.01" cy="526.5" r="6"/><circle cx="1319.46" cy="522.1" r="6"/><circle cx="1329.91" cy="515.7" r="6"/><circle cx="1340.37" cy="516.1" r="6"/><circle cx="1350.83" cy="513.8" r="6"/><circle cx="1361.28" cy="504.7" r="6"/><circle cx="1371.74" cy="499" r="6"/><circle cx="1382.19" cy="492.3" r="6"/><circle cx="1392.64" cy="488.7" r="6"/><circle cx="1403.1" cy="489.4" r="6"/><circle cx="1413.56" cy="485.6" r="6"/><circle cx="1424.01" cy="481.5" r="6"/><circle cx="1434.46" cy="477.3" r="6"/><circle cx="1444.92" cy="474.5" r="6"/><circle cx="1455.38" cy="471.5" r="6"/><circle cx="1465.83" cy="468.5" r="6"/><circle cx="1476.29" cy="464.8" r="6"/><circle cx="1486.74" cy="462.8" r="6"/><circle cx="1497.2" cy="459" r="6"/><circle cx="1507.65" cy="458.5" r="6"/><circle cx="1518.11" cy="452.9" r="6"/><circle cx="1528.56" cy="450.4" r="6"/><circle cx="1539.01" cy="451.6" r="6"/><circle cx="1549.47" cy="448.7" r="6"/><circle cx="1559.93" cy="449.1" r="6"/><circle cx="1570.38" cy="446.2" r="6"/><circle cx="1580.84" cy="441.3" r="6"/><circle cx="1591.29" cy="439.9" r="6"/><circle cx="1601.74" cy="437.4" r="6"/><circle cx="1612.2" cy="433.3" r="6"/></g>
<g stroke="#00f"><circle cx="984.9" cy="454.3" r="6"/><circle cx="995.36" cy="443.4" r="6"/><circle cx="1005.81" cy="438.5" r="6"/><circle cx="1016.26" cy="430.6" r="6"/><circle cx="1026.72" cy="421.6" r="6"/><circle cx="1037.17" cy="415.6" r="6"/><circle cx="1047.63" cy="407.4" r="6"/><circle cx="1058.09" cy="398.9" r="6"/><circle cx="1068.54" cy="388.3" r="6"/><circle cx="1078.99" cy="375.2" r="6"/><circle cx="1089.45" cy="360.7" r="6"/><circle cx="1099.9" cy="350.6" r="6"/><circle cx="1110.36" cy="337.5" r="6"/><circle cx="1120.82" cy="328.2" r="6"/><circle cx="1131.27" cy="313.7" r="6"/><circle cx="1141.72" cy="302" r="6"/><circle cx="1152.18" cy="291.1" r="6"/><circle cx="1162.63" cy="278.6" r="6"/><circle cx="1173.09" cy="270.2" r="6"/><circle cx="1183.55" cy="263.9" r="6"/><circle cx="1194" cy="255" r="6"/><circle cx="1204.45" cy="245" r="6"/><circle cx="1214.91" cy="240" r="6"/><circle cx="1225.37" cy="232" r="6"/><circle cx="1235.82" cy="224.6" r="6"/><circle cx="1246.28" cy="217.1" r="6"/><circle cx="1256.73" cy="210.1" r="6"/><circle cx="1267.18" cy="203.4" r="6"/><circle cx="1277.64" cy="199.7" r="6"/><circle cx="1288.1" cy="194.2" r="6"/><circle cx="1298.55" cy="190.2" r="6"/><circle cx="1309.01" cy="185.5" r="6"/><circle cx="1319.46" cy="180.2" r="6"/><circle cx="1329.91" cy="176" r="6"/><circle cx="1340.37" cy="175" r="6"/><circle cx="1350.83" cy="171.9" r="6"/><circle cx="1361.28" cy="168.7" r="6"/><circle cx="1371.74" cy="165.6" r="6"/><circle cx="1382.19" cy="160.5" r="6"/><circle cx="1392.64" cy="157.3" r="6"/><circle cx="1403.1" cy="154.8" r="6"/><circle cx="1413.56" cy="152" r="6"/><circle cx="1424.01" cy="150.5" r="6"/><circle cx="1434.46" cy="148.6" r="6"/><circle cx="1444.92" cy="146.3" r="6"/><circle cx="1455.38" cy="148.2" r="6"/><circle cx="1465.83" cy="144.4" r="6"/><circle cx="1476.29" cy="144.4" r="6"/><circle cx="1486.74" cy="141.5" r="6"/><circle cx="1497.2" cy="141.5" r="6"/><circle cx="1507.65" cy="138.7" r="6"/><circle cx="1518.11" cy="137.2" r="6"/><circle cx="1528.56" cy="135.8" r="6"/><circle cx="1539.01" cy="133.9" r="6"/><circle cx="1549.47" cy="132" r="6"/><circle cx="1559.93" cy="130.7" r="6"/><circle cx="1570.38" cy="130.7" r="6"/><circle cx="1580.84" cy="129.2" r="6"/><circle cx="1591.29" cy="128.3" r="6"/><circle cx="1601.74" cy="125.8" r="6"/><circle cx="1612.2" cy="124.5" r="6"/><circle cx="984.9" cy="395.1" r="6"/><circle cx="995.36" cy="384.7" r="6"/><circle cx="1005.81" cy="379.3" r="6"/><circle cx="1016.26" cy="374.3" r="6"/><circle cx="1026.72" cy="362.9" r="6"/><circle cx="1037.17" cy="355.8" r="6"/><circle cx="1047.63" cy="354.1" r="6"/><circle cx="1058.09" cy="345.9" r="6"/><circle cx="1068.54" cy="339.7" r="6"/><circle cx="1078.99" cy="330.9" r="6"/><circle cx="1089.45" cy="325.2" r="6"/><circle cx="1099.9" cy="312.9" r="6"/><circle cx="1110.36" cy="303.6" r="6"/><circle cx="1120.82" cy="296" r="6"/><circle cx="1131.27" cy="284" r="6"/><circle cx="1141.72" cy="274.4" r="6"/><circle cx="1152.18" cy="273.1" r="6"/><circle cx="1162.63" cy="264.9" r="6"/><circle cx="1173.09" cy="254" r="6"/><circle cx="1183.55" cy="249" r="6"/><circle cx="1194" cy="238.3" r="6"/><circle cx="1204.45" cy="232" r="6"/><circle cx="1214.91" cy="219.1" r="6"/><circle cx="1225.37" cy="212.6" r="6"/><circle cx="1235.82" cy="207.1" r="6"/><circle cx="1246.28" cy="196.7" r="6"/><circle cx="1256.73" cy="190.9" r="6"/><circle cx="1267.18" cy="183.5" r="6"/><circle cx="1277.64" cy="176" r="6"/><circle cx="1288.1" cy="170.5" r="6"/><circle cx="1298.55" cy="164.8" r="6"/><circle cx="1309.01" cy="157.3" r="6"/><circle cx="1319.46" cy="151.6" r="6"/><circle cx="1329.91" cy="147.3" r="6"/><circle cx="1340.37" cy="142.2" r="6"/><circle cx="1350.83" cy="137.7" r="6"/><circle cx="1361.28" cy="135.8" r="6"/><circle cx="1371.74" cy="130.7" r="6"/><circle cx="1382.19" cy="126.9" r="6"/><circle cx="1392.64" cy="122.9" r="6"/><circle cx="1403.1" cy="119.3" r="6"/><circle cx="1413.56" cy="115" r="6"/><circle cx="1424.01" cy="112.1" r="6"/><circle cx="1434.46" cy="109.3" r="6"/><circle cx="1444.92" cy="107.9" r="6"/><circle cx="1455.38" cy="104.5" r="6"/><circle cx="1465.83" cy="101.1" r="6"/><circle cx="1476.29" cy="97.5" r="6"/><circle cx="1486.74" cy="94.1" r="6"/><circle cx="1497.2" cy="91.6" r="6"/><circle cx="1507.65" cy="89.7" r="6"/><circle cx="1518.11" cy="84.6" r="6"/><circle cx="1528.56" cy="82.7" r="6"/><circle cx="1539.01" cy="81.8" r="6"/><circle cx="1549.47" cy="80.2" r="6"/><circle cx="1559.93" cy="77" r="6"/><circle cx="1570.38" cy="75.7" r="6"/><circle cx="1580.84" cy="75.1" r="6"/><circle cx="1591.29" cy="70.4" r="6"/><circle cx="1601.74" cy="69.4" r="6"/><circle cx="1612.2" cy="65.6" r="6"/></g>
</g>
<g font-weight="bold" font-size="50.4" fill="#000" stroke="#000" stroke-width="1.3" stroke-linejoin="round">
<text x="152" y="51.7" text-anchor="end">10<tspan font-size="34.4" dy="-24.3"><tspan dx="1.1">-</tspan><tspan dx="-1.1">1</tspan></tspan></text><text x="152" y="161.32" text-anchor="end">10<tspan font-size="34.4" dy="-24.3"><tspan dx="1.1">-</tspan><tspan dx="-1.1">2</tspan></tspan></text><text x="152" y="270.93" text-anchor="end">10<tspan font-size="34.4" dy="-24.3"><tspan dx="1.1">-</tspan><tspan dx="-1.1">3</tspan></tspan></text><text x="152" y="380.55" text-anchor="end">10<tspan font-size="34.4" dy="-24.3"><tspan dx="1.1">-</tspan><tspan dx="-1.1">4</tspan></tspan></text><text x="152" y="490.17" text-anchor="end">10<tspan font-size="34.4" dy="-24.3"><tspan dx="1.1">-</tspan><tspan dx="-1.1">5</tspan></tspan></text><text x="152" y="599.78" text-anchor="end">10<tspan font-size="34.4" dy="-24.3"><tspan dx="1.1">-</tspan><tspan dx="-1.1">6</tspan></tspan></text><text x="152" y="709.4" text-anchor="end">10<tspan font-size="34.4" dy="-24.3"><tspan dx="1.1">-</tspan><tspan dx="-1.1">7</tspan></tspan></text><text x="167.4" y="761.4" text-anchor="middle">10<tspan font-size="34.4" dy="-25.3"><tspan dx="1.1">-</tspan><tspan dx="-1.1">5</tspan></tspan></text><text x="256.8" y="761.4" text-anchor="middle">10<tspan font-size="34.4" dy="-25.3"><tspan dx="1.1">-</tspan><tspan dx="-1.1">4</tspan></tspan></text><text x="346.2" y="761.4" text-anchor="middle">10<tspan font-size="34.4" dy="-25.3"><tspan dx="1.1">-</tspan><tspan dx="-1.1">3</tspan></tspan></text><text x="435.6" y="761.4" text-anchor="middle">10<tspan font-size="34.4" dy="-25.3"><tspan dx="1.1">-</tspan><tspan dx="-1.1">2</tspan></tspan></text><text x="525" y="761.4" text-anchor="middle">10<tspan font-size="34.4" dy="-25.3"><tspan dx="1.1">-</tspan><tspan dx="-1.1">1</tspan></tspan></text><text x="614.4" y="761.4" text-anchor="middle">10<tspan font-size="34.4" dy="-25.3">0</tspan></text><text x="703.8" y="761.4" text-anchor="middle">10<tspan font-size="34.4" dy="-25.3">1</tspan></text><text x="793.2" y="761.4" text-anchor="middle">10<tspan font-size="34.4" dy="-25.3">2</tspan></text><text x="968.8" y="51.7" text-anchor="end">10<tspan font-size="34.4" dy="-24.8">1</tspan></text><text x="968.8" y="145.93" text-anchor="end">10<tspan font-size="34.4" dy="-24.8">0</tspan></text><text x="968.8" y="240.16" text-anchor="end">10<tspan font-size="34.4" dy="-24.8"><tspan dx="1.1">-</tspan><tspan dx="-1.1">1</tspan></tspan></text><text x="968.8" y="334.39" text-anchor="end">10<tspan font-size="34.4" dy="-24.8"><tspan dx="1.1">-</tspan><tspan dx="-1.1">2</tspan></tspan></text><text x="968.8" y="428.61" text-anchor="end">10<tspan font-size="34.4" dy="-24.8"><tspan dx="1.1">-</tspan><tspan dx="-1.1">3</tspan></tspan></text><text x="968.8" y="522.84" text-anchor="end">10<tspan font-size="34.4" dy="-24.8"><tspan dx="1.1">-</tspan><tspan dx="-1.1">4</tspan></tspan></text><text x="968.8" y="617.07" text-anchor="end">10<tspan font-size="34.4" dy="-24.8"><tspan dx="1.1">-</tspan><tspan dx="-1.1">5</tspan></tspan></text><text x="968.8" y="711.3" text-anchor="end">10<tspan font-size="34.4" dy="-24.8"><tspan dx="1.1">-</tspan><tspan dx="-1.1">6</tspan></tspan></text>
<text x="984.2" y="754.6" text-anchor="middle">-0.1</text><text x="1088.75" y="754.6" text-anchor="middle">0.0</text><text x="1193.3" y="754.6" text-anchor="middle">0.1</text><text x="1297.85" y="754.6" text-anchor="middle">0.2</text><text x="1402.4" y="754.6" text-anchor="middle">0.3</text><text x="1506.95" y="754.6" text-anchor="middle">0.4</text><text x="1611.5" y="754.6" text-anchor="middle">0.5</text>
</g>
<text transform="translate(380.84 824) scale(1.1034 1)" font-family="Liberation Sans, sans-serif" font-weight="bold" font-size="51.5" fill="#000" stroke="#000" stroke-width="0.7" stroke-linejoin="round">I</text>
<text transform="translate(395.03 839.6) scale(1.0074 1)" font-family="Liberation Sans, sans-serif" font-weight="bold" font-size="35" fill="#000" stroke="#000" stroke-width="0.7" stroke-linejoin="round">max</text>
<text transform="translate(480.3 824)" font-family="Liberation Sans, sans-serif" font-weight="bold" font-size="49" fill="#000" stroke="#000" stroke-width="0.7" stroke-linejoin="round">(</text>
<text transform="translate(499.41 824.1) scale(0.9731 1)" font-family="Liberation Serif, serif" font-weight="bold" font-size="48" fill="#000">&#956;</text>
<text transform="translate(524.74 824) scale(1.0394 1)" font-family="Liberation Sans, sans-serif" font-weight="bold" font-size="51.5" fill="#000" stroke="#000" stroke-width="0.7" stroke-linejoin="round">A</text>
<text transform="translate(563.75 824)" font-family="Liberation Sans, sans-serif" font-weight="bold" font-size="49" fill="#000" stroke="#000" stroke-width="0.7" stroke-linejoin="round">)</text>
<text transform="translate(1063.13 817) scale(1.0350 1)" font-family="Liberation Sans, sans-serif" font-weight="bold" font-size="50.5" fill="#000" stroke="#000" stroke-width="0.7" stroke-linejoin="round">Gate Voltage V</text>
<text transform="translate(1427.38 832.9) scale(1.0833 1)" font-family="Liberation Sans, sans-serif" font-weight="bold" font-size="36" fill="#000" stroke="#000" stroke-width="0.7" stroke-linejoin="round">g</text>
<text transform="translate(1464.2 817)" font-family="Liberation Sans, sans-serif" font-weight="bold" font-size="49" fill="#000" stroke="#000" stroke-width="0.7" stroke-linejoin="round">(</text>
<text transform="translate(1480.87 817) scale(1.0565 1)" font-family="Liberation Sans, sans-serif" font-weight="bold" font-size="50.5" fill="#000" stroke="#000" stroke-width="0.7" stroke-linejoin="round">V</text>
<text transform="translate(1517.85 817)" font-family="Liberation Sans, sans-serif" font-weight="bold" font-size="49" fill="#000" stroke="#000" stroke-width="0.7" stroke-linejoin="round">)</text>
<text transform="translate(191.75 96.9)" font-family="Liberation Sans, sans-serif" font-weight="normal" font-size="42" fill="#000" stroke="#000" stroke-width="0.9" stroke-linejoin="round">V</text>
<text transform="translate(219.3 108.7) scale(1.1200 1)" font-family="Liberation Sans, sans-serif" font-weight="normal" font-size="28" fill="#000" stroke="#000" stroke-width="0.9" stroke-linejoin="round">d</text>
<text transform="translate(248.01 96.9) scale(0.9970 1)" font-family="Liberation Sans, sans-serif" font-weight="normal" font-size="42" fill="#000" stroke="#000" stroke-width="0.9" stroke-linejoin="round">= 0.3 V</text>
<text transform="translate(1028.55 88.8)" font-family="Liberation Sans, sans-serif" font-weight="normal" font-size="42" fill="#000" stroke="#000" stroke-width="0.9" stroke-linejoin="round">V</text>
<text transform="translate(1056.11 100.9) scale(1.1120 1)" font-family="Liberation Sans, sans-serif" font-weight="normal" font-size="28" fill="#000" stroke="#000" stroke-width="0.9" stroke-linejoin="round">d</text>
<text transform="translate(1083.56 88.8) scale(1.0160 1)" font-family="Liberation Sans, sans-serif" font-weight="normal" font-size="42" fill="#000" stroke="#000" stroke-width="0.9" stroke-linejoin="round">(V) =</text>
<text transform="translate(1051.64 146) scale(1.0055 1)" font-family="Liberation Sans, sans-serif" font-weight="normal" font-size="42" fill="#000" stroke="#000" stroke-width="0.9" stroke-linejoin="round">0.05, 0.3 V</text>
<text transform="translate(1368.15 217.2) scale(1.0095 1)" font-family="Liberation Sans, sans-serif" font-weight="normal" font-size="42" fill="#00f" stroke="#00f" stroke-width="0.9" stroke-linejoin="round">With shell</text>
<text transform="translate(1332.95 419.2) scale(1.0088 1)" font-family="Liberation Sans, sans-serif" font-weight="normal" font-size="42" fill="#f00" stroke="#f00" stroke-width="0.9" stroke-linejoin="round">Without shell</text>
<text transform="translate(208.55 577.9)" font-family="Liberation Sans, sans-serif" font-weight="normal" font-size="42" fill="#f00" stroke="#f00" stroke-width="0.9" stroke-linejoin="round">Without Shell</text>
<text transform="translate(572.35 576.9) scale(1.0054 1)" font-family="Liberation Sans, sans-serif" font-weight="normal" font-size="42" fill="#00f" stroke="#00f" stroke-width="0.9" stroke-linejoin="round">With Shell</text>
<text transform="translate(696.2 659.5)" font-family="Liberation Sans, sans-serif" font-weight="bold" font-size="102" fill="#000">a</text>
<text transform="translate(1518.15 659.7)" font-family="Liberation Sans, sans-serif" font-weight="bold" font-size="102" fill="#000">b</text>
<text transform="rotate(-90) translate(-459.28 42.1) scale(0.9806 1)" font-family="Liberation Sans, sans-serif" font-weight="bold" font-size="55" fill="#000" stroke="#000" stroke-width="0.3" stroke-linejoin="round">I</text>
<text transform="rotate(-90) translate(-444.45 59) scale(0.9418 1)" font-family="Liberation Sans, sans-serif" font-weight="bold" font-size="38" fill="#000" stroke="#000" stroke-width="0.3" stroke-linejoin="round">min</text>
<text transform="rotate(-90) translate(-365 42.4)" font-family="Liberation Sans, sans-serif" font-weight="bold" font-size="52" fill="#000" stroke="#000" stroke-width="0.3" stroke-linejoin="round">(</text>
<text transform="rotate(-90) translate(-344.25 42.4) scale(0.8704 1)" font-family="Liberation Serif, serif" font-weight="bold" font-size="50" fill="#000">&#956;</text>
<text transform="rotate(-90) translate(-320.86 42.4) scale(0.9703 1)" font-family="Liberation Sans, sans-serif" font-weight="bold" font-size="55.5" fill="#000" stroke="#000" stroke-width="0.3" stroke-linejoin="round">A</text>
<text transform="rotate(-90) translate(-280.55 42.4)" font-family="Liberation Sans, sans-serif" font-weight="bold" font-size="52" fill="#000" stroke="#000" stroke-width="0.3" stroke-linejoin="round">)</text>
<text transform="rotate(-90) translate(-615.83 859.2) scale(0.9674 1)" font-family="Liberation Sans, sans-serif" font-weight="bold" font-size="55" fill="#000" stroke="#000" stroke-width="0.3" stroke-linejoin="round">Drain Current I</text>
<text transform="rotate(-90) translate(-243.4 875)" font-family="Liberation Sans, sans-serif" font-weight="bold" font-size="36" fill="#000" stroke="#000" stroke-width="0.3" stroke-linejoin="round">d</text>
<text transform="rotate(-90) translate(-210.4 859.2)" font-family="Liberation Sans, sans-serif" font-weight="bold" font-size="52" fill="#000" stroke="#000" stroke-width="0.3" stroke-linejoin="round">(</text>
<text transform="rotate(-90) translate(-190.16 859.2) scale(0.8852 1)" font-family="Liberation Serif, serif" font-weight="bold" font-size="50" fill="#000">&#956;</text>
<text transform="rotate(-90) translate(-165.22 859.2) scale(0.9497 1)" font-family="Liberation Sans, sans-serif" font-weight="bold" font-size="55" fill="#000" stroke="#000" stroke-width="0.3" stroke-linejoin="round">A</text>
<text transform="rotate(-90) translate(-126.15 859.2)" font-family="Liberation Sans, sans-serif" font-weight="bold" font-size="52" fill="#000" stroke="#000" stroke-width="0.3" stroke-linejoin="round">)</text>
</svg>
</body></html>
